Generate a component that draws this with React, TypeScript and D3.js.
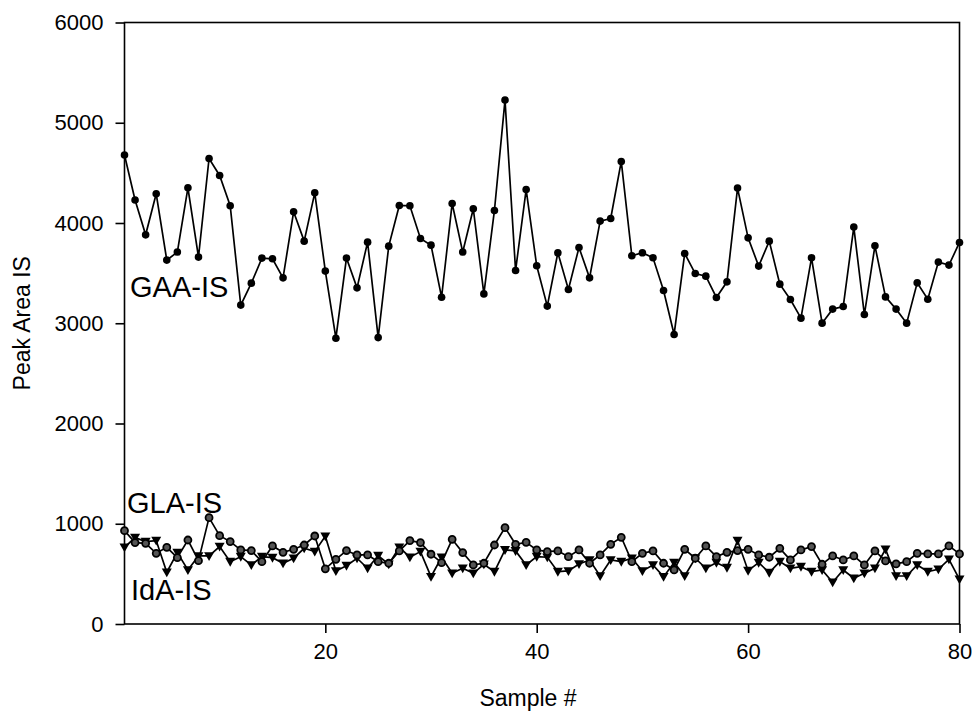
import React, { useEffect, useRef } from 'react';
import * as d3 from 'd3';

// sample numbers 1..80
const samples = d3.range(1, 81);

const gaaIS = [4678, 4229, 3882, 4291, 3630, 3710, 4351, 3660, 4644, 4474, 4172, 3181, 3400, 3650, 3643, 3453, 4112, 3819, 4301, 3520,
  2851, 3650, 3353, 3809, 2857, 3769, 4175, 4172, 3845, 3779, 3260, 4195, 3710, 4142, 3293, 4125, 5226, 3526, 4334, 3573,
  3171, 3703, 3337, 3756, 3453, 4019, 4045, 4614, 3673, 3703, 3653, 3327, 2888, 3696, 3496, 3470, 3257, 3413, 4348, 3852,
  3570, 3819, 3390, 3237, 3051, 3653, 3001, 3141, 3167, 3959, 3087, 3772, 3263, 3141, 3001, 3403, 3240, 3610, 3580, 3806];

const glaIS = [931, 812, 805, 705, 765, 662, 838, 632, 1061, 881, 822, 739, 732, 622, 779, 715, 745, 788, 878, 550,
  645, 732, 689, 689, 622, 606, 729, 832, 812, 696, 612, 845, 712, 589, 606, 788, 961, 795, 815, 739,
  722, 729, 672, 739, 606, 689, 795, 865, 622, 705, 729, 606, 539, 745, 656, 779, 672, 715, 732, 745,
  689, 666, 755, 639, 739, 772, 596, 679, 639, 679, 589, 729, 629, 599, 622, 705, 699, 699, 779, 699];

const idaIS = [765, 862, 822, 832, 516, 712, 539, 679, 679, 772, 622, 672, 589, 672, 662, 606, 656, 755, 722, 875,
  529, 582, 656, 556, 682, 596, 765, 666, 722, 472, 666, 506, 556, 506, 596, 522, 739, 729, 589, 672,
  666, 522, 529, 599, 639, 479, 639, 622, 656, 529, 589, 472, 612, 479, 656, 556, 612, 562, 832, 532,
  612, 512, 622, 556, 572, 522, 539, 416, 539, 456, 506, 556, 745, 479, 479, 589, 522, 546, 645, 446];

const yTicks = [0, 1000, 2000, 3000, 4000, 5000, 6000];
const xTicks = [20, 40, 60, 80];

const font = '"Liberation Sans", Arial, sans-serif';

const App = () => {
  const svgRef = useRef<SVGSVGElement>(null);

  useEffect(() => {
    if (!svgRef.current) return;
    const svg = d3.select(svgRef.current);
    svg.selectAll('*').remove();

    const left = 124.5, right = 959.5, top = 22.5, bottom = 624;

    const x = d3.scaleLinear().domain([1, 80]).range([left, right]);
    const y = d3.scaleLinear().domain([0, 6000]).range([bottom, top]);

    // frame
    svg.append('rect')
      .attr('x', left).attr('y', top)
      .attr('width', right - left).attr('height', bottom - top)
      .attr('fill', 'none').attr('stroke', '#000').attr('stroke-width', 1.6);

    // y axis
    const yAxis = svg.append('g')
      .attr('transform', `translate(${left},0)`)
      .call(d3.axisLeft(y).tickValues(yTicks).tickSize(9).tickSizeOuter(0).tickPadding(12).tickFormat(d3.format('d')));
    yAxis.select('.domain').remove();
    yAxis.selectAll('line').attr('stroke', '#000').attr('stroke-width', 1.6);
    yAxis.selectAll('text')
      .attr('fill', '#000')
      .style('font-family', font)
      .style('font-size', '22px');

    // x axis
    const xAxis = svg.append('g')
      .attr('transform', `translate(0,${bottom})`)
      .call(d3.axisBottom(x).tickValues(xTicks).tickSize(9).tickSizeOuter(0).tickPadding(10).tickFormat(d3.format('d')));
    xAxis.select('.domain').remove();
    xAxis.selectAll('line').attr('stroke', '#000').attr('stroke-width', 1.6);
    xAxis.selectAll('text')
      .attr('fill', '#000')
      .style('font-family', font)
      .style('font-size', '22px');

    // axis titles
    svg.append('text')
      .attr('x', 528).attr('y', 706)
      .attr('text-anchor', 'middle')
      .style('font-family', font).style('font-size', '23px')
      .text('Sample #');

    svg.append('text')
      .attr('transform', `translate(30,${(top + bottom) / 2}) rotate(-90)`)
      .attr('text-anchor', 'middle')
      .style('font-family', font).style('font-size', '23px')
      .text('Peak Area IS');

    const line = d3.line<number>()
      .x((d, i) => x(samples[i]))
      .y(d => y(d));

    const drawLine = (vals: number[]) => {
      svg.append('path')
        .datum(vals)
        .attr('d', line)
        .attr('fill', 'none')
        .attr('stroke', '#000')
        .attr('stroke-width', 1.7);
    };

    drawLine(idaIS);
    drawLine(glaIS);
    drawLine(gaaIS);

    // IdA-IS: downward triangles
    svg.append('g').selectAll('path')
      .data(idaIS)
      .enter()
      .append('path')
      .attr('d', 'M-5,-3.8 L5,-3.8 L0,5 Z')
      .attr('transform', (d, i) => `translate(${x(samples[i])},${y(d)})`)
      .attr('fill', '#000');

    // GLA-IS: gray-centred circles
    svg.append('g').selectAll('circle')
      .data(glaIS)
      .enter()
      .append('circle')
      .attr('cx', (d, i) => x(samples[i]))
      .attr('cy', d => y(d))
      .attr('r', 3.5)
      .attr('fill', '#555')
      .attr('stroke', '#000')
      .attr('stroke-width', 1.8);

    // GAA-IS: filled circles
    svg.append('g').selectAll('circle')
      .data(gaaIS)
      .enter()
      .append('circle')
      .attr('cx', (d, i) => x(samples[i]))
      .attr('cy', d => y(d))
      .attr('r', 3.8)
      .attr('fill', '#000');

    // series labels
    const labels = [
      { text: 'GAA-IS', x: 130, y: 297 },
      { text: 'GLA-IS', x: 127, y: 513 },
      { text: 'IdA-IS', x: 131, y: 600 },
    ];
    svg.append('g').selectAll('text')
      .data(labels)
      .enter()
      .append('text')
      .attr('x', d => d.x).attr('y', d => d.y)
      .style('font-family', font).style('font-size', '29px')
      .text(d => d.text);
  }, []);

  return (
    <svg
      ref={svgRef}
      width={976}
      height={717}
      style={{ position: 'absolute', left: 0, top: 0, background: '#fff' }}
    />
  );
};

export default App;
